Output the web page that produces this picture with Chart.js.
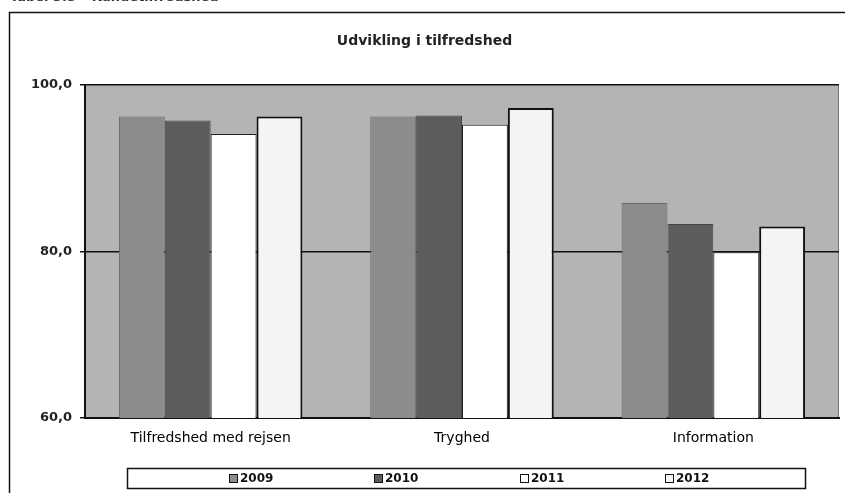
<!DOCTYPE html>
<html>
<head>
<meta charset="utf-8">
<script src="https://cdn.jsdelivr.net/npm/chart.js@4/dist/chart.umd.min.js"></script>
<style>
  html, body { margin: 0; padding: 0; background: #fff; overflow: hidden; }
  #wrap { position: relative; width: 845px; height: 493px; }
  #caption { position: absolute; left: 10px; top: -11px; font: bold 13px "DejaVu Sans", sans-serif; color: #333; white-space: nowrap; }
</style>
</head>
<body>
<div id="wrap">
  <canvas id="chart" width="845" height="493"></canvas>
  <div id="caption">Tabel 3.5 – Kundetilfredshed</div>
</div>
<script>
// Données
const categories = ['Tilfredshed med rejsen', 'Tryghed', 'Information'];
const years = ['2009', '2010', '2011', '2012'];
const values2009 = [96.2, 96.2, 85.8];
const values2010 = [95.7, 96.3, 83.3];
const values2011 = [94.1, 95.2, 79.9];
const values2012 = [96.2, 97.2, 83.0];
const yTicks = [60, 80, 100];

const fills = ['#8c8c8c', '#5c5c5c', '#ffffff', '#f4f4f4'];
const edges = ['#6a6a6a', '#454545', '#222222', '#111111'];
const series = [values2009, values2010, values2011, values2012];

// fond gris + cadre + légende encadrée
const decor = {
    id: 'decor',
    beforeDraw(chart) {
        const { ctx, chartArea: a } = chart;
        ctx.save();
        ctx.fillStyle = '#b4b4b4';
        ctx.fillRect(a.left, a.top, a.right - a.left, a.bottom - a.top);
        ctx.strokeStyle = '#777';
        ctx.lineWidth = 1;
        ctx.beginPath();
        ctx.moveTo(a.right - 0.5, a.top);
        ctx.lineTo(a.right - 0.5, a.bottom);
        ctx.stroke();
        // cadre extérieur
        ctx.strokeStyle = '#111';
        ctx.lineWidth = 1.5;
        ctx.beginPath();
        ctx.moveTo(9.5, 493);
        ctx.lineTo(9.5, 12.5);
        ctx.lineTo(845, 12.5);
        ctx.stroke();
        ctx.restore();
    },
    afterDraw(chart) {
        const ctx = chart.ctx;
        ctx.save();
        ctx.strokeStyle = '#111';
        ctx.lineWidth = 1.5;
        ctx.strokeRect(127.5, 468.5, 678, 20);
        const xs = [229, 374, 520, 665];
        ctx.font = 'bold 12px "DejaVu Sans", sans-serif';
        ctx.textBaseline = 'middle';
        chart.data.datasets.forEach((ds, i) => {
            ctx.fillStyle = ds.backgroundColor;
            ctx.fillRect(xs[i], 474, 9, 9);
            ctx.lineWidth = 1;
            ctx.strokeStyle = '#111';
            ctx.strokeRect(xs[i] + 0.5, 474.5, 8, 8);
            ctx.fillStyle = '#111';
            ctx.fillText(ds.label, xs[i] + 11, 479);
        });
        ctx.restore();
    }
};

new Chart(document.getElementById('chart').getContext('2d'), {
    type: 'bar',
    data: {
        labels: categories,
        datasets: series.map((vals, i) => ({
            label: years[i],
            data: vals,
            backgroundColor: fills[i],
            borderColor: edges[i],
            borderWidth: i === 3 ? 2 : 1,
            categoryPercentage: 0.73,
            barPercentage: 1
        }))
    },
    options: {
        responsive: false,
        animation: false,
        layout: { padding: { left: 10, right: 6, top: 0, bottom: 41 } },
        plugins: {
            legend: { display: false },
            tooltip: { enabled: false },
            title: {
                display: true,
                text: 'Udvikling i tilfredshed',
                color: '#222',
                font: { family: '"DejaVu Sans", sans-serif', size: 14, weight: 'bold' },
                padding: { top: 33, bottom: 35 }
            }
        },
        scales: {
            x: {
                grid: { display: false },
                border: { color: '#111', width: 2 },
                ticks: {
                    color: '#000',
                    padding: 4,
                    font: { family: '"DejaVu Sans", sans-serif', size: 14 }
                },
                afterFit: (s) => { s.height = 34; }
            },
            y: {
                min: 60,
                max: 100,
                afterBuildTicks: (s) => { s.ticks = yTicks.map(v => ({ value: v })); },
                grid: { color: '#111', lineWidth: 1.5, tickLength: 5 },
                border: { color: '#111', width: 2 },
                ticks: {
                    color: '#222',
                    padding: 8,
                    font: { family: '"DejaVu Sans", sans-serif', size: 13, weight: 'bold' },
                    callback: (v) => v.toFixed(1).replace('.', ',')
                },
                afterFit: (s) => { s.width = 75; }
            }
        }
    },
    plugins: [decor]
});
</script>
</body>
</html>
